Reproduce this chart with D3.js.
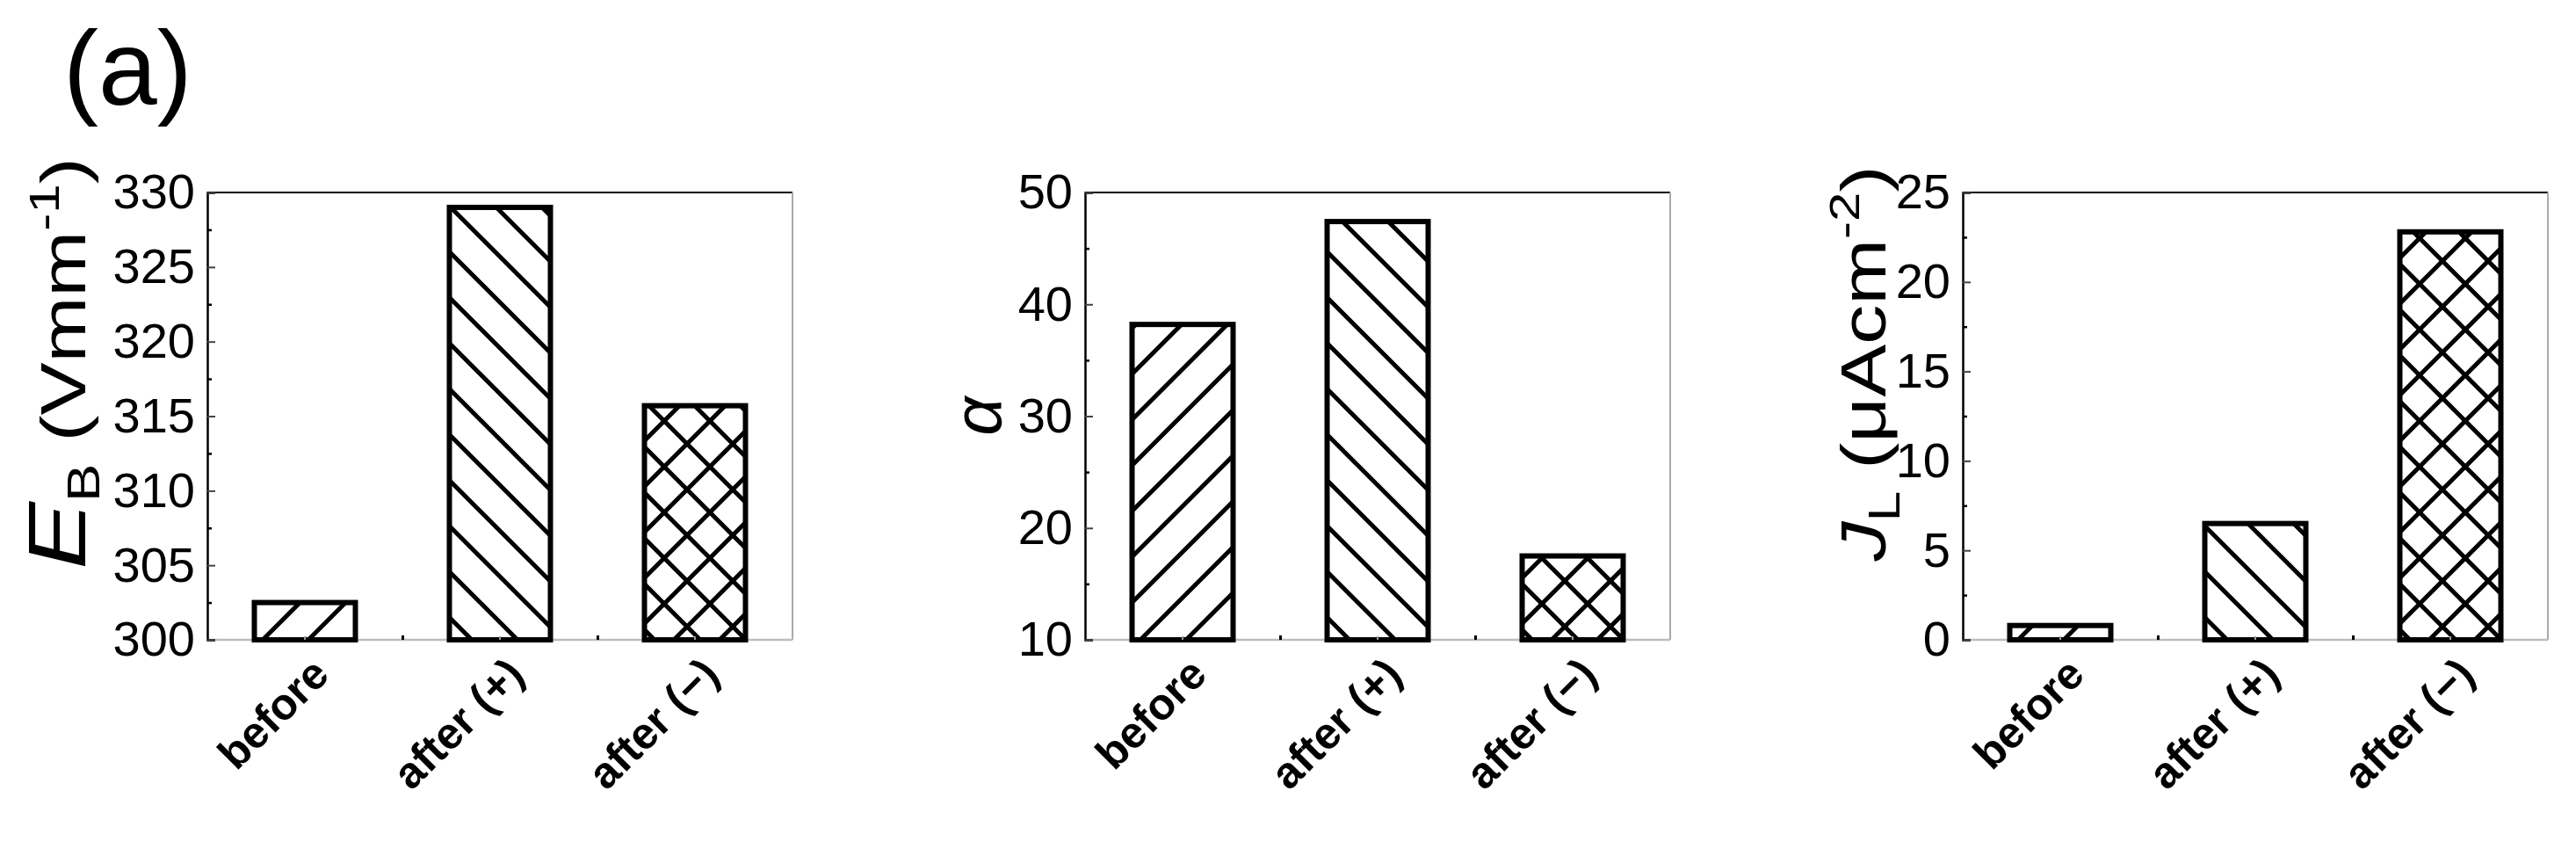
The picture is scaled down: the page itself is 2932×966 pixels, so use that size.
<!DOCTYPE html>
<html>
<head>
<meta charset="utf-8">
<script src="https://cdn.jsdelivr.net/npm/d3@7"></script>
<style>
  body { margin: 0; background: #fff; }
  text { font-family: "Liberation Sans", Arial, sans-serif; }
</style>
</head>
<body>
<div id="chart"></div>
<script>
// data
var categories = ['before', 'after (+)', 'after (\u2212)'];
var ebValues = [302.5, 329.0, 315.7];
var alphaValues = [38.2, 47.4, 17.5];
var jlValues = [0.8, 6.5, 22.8];
var ebDomain = [300, 330];
var alphaDomain = [10, 50];
var jlDomain = [0, 25];
var ebTicks = [300, 305, 310, 315, 320, 325, 330];
var alphaTicks = [10, 20, 30, 40, 50];
var jlTicks = [0, 5, 10, 15, 20, 25];
var ebMinor = [302.5, 307.5, 312.5, 317.5, 322.5, 327.5];
var alphaMinor = [15, 25, 35, 45];
var jlMinor = [2.5, 7.5, 12.5, 17.5, 22.5];
var hatches = ['fwd', 'back', 'cross'];

var width = 2932, height = 966;
var plotW = 666, plotTop = 219, plotH = 509;

var svg = d3.select("#chart")
  .append("svg")
  .attr("width", width)
  .attr("height", height);

// hatch patterns
var defs = svg.append("defs");
var step = 52;
function addPattern(id, paths) {
  var p = defs.append("pattern")
    .attr("id", id)
    .attr("patternUnits", "userSpaceOnUse")
    .attr("width", step)
    .attr("height", step);
  p.append("rect").attr("width", step).attr("height", step).attr("fill", "#fff");
  paths.forEach(function(d) {
    p.append("path").attr("d", d)
      .attr("stroke", "#000")
      .attr("stroke-width", 5)
      .attr("fill", "none");
  });
}
var fwd = "M-13,13 L13,-13 M0," + step + " L" + step + ",0 M" + (step - 13) + "," + (step + 13) + " L" + (step + 13) + "," + (step - 13);
var back = "M-13," + (step - 13) + " L13," + (step + 13) + " M0,0 L" + step + "," + step + " M" + (step - 13) + ",-13 L" + (step + 13) + ",13";
addPattern("fwd", [fwd]);
addPattern("back", [back]);
addPattern("cross", [fwd, back]);

svg.append("text")
  .attr("x", 72)
  .attr("y", 119)
  .style("font-size", "120px")
  .text("(a)");

function drawPanel(left, values, domain, ticks, minor, title) {
  var g = svg.append("g")
    .attr("transform", "translate(" + left + "," + plotTop + ")");

  var x = d3.scaleBand()
    .domain(categories)
    .range([0, plotW])
    .paddingInner(0.482)
    .paddingOuter(0.241);
  var y = d3.scaleLinear()
    .domain(domain)
    .range([plotH, 0]);

  // frame: top black, right and bottom grey
  g.append("line").attr("x1", 0).attr("x2", plotW).attr("y1", 0).attr("y2", 0)
    .attr("stroke", "#000").attr("stroke-width", 2);
  g.append("line").attr("x1", plotW).attr("x2", plotW).attr("y1", 0).attr("y2", plotH)
    .attr("stroke", "#aaa").attr("stroke-width", 2);
  g.append("line").attr("x1", 0).attr("x2", plotW).attr("y1", plotH).attr("y2", plotH)
    .attr("stroke", "#bdbdbd").attr("stroke-width", 2.5);

  // bars
  g.selectAll("rect.bar")
    .data(values)
    .enter()
    .append("rect")
      .attr("class", "bar")
      .attr("x", function(d, i) { return x(categories[i]); })
      .attr("width", x.bandwidth())
      .attr("y", function(d) { return y(d); })
      .attr("height", function(d) { return y(domain[0]) - y(d); })
      .attr("fill", function(d, i) { return "url(#" + hatches[i] + ")"; })
      .attr("stroke", "#000")
      .attr("stroke-width", 6);

  // y axis (ticks inward)
  var yAxis = g.append("g")
    .call(d3.axisLeft(y).tickValues(ticks).tickSize(-9).tickPadding(14).tickFormat(d3.format("d")));
  yAxis.select(".domain").attr("stroke", "#000").attr("stroke-width", 2.5);
  yAxis.selectAll(".tick line").attr("stroke", "#444").attr("stroke-width", 2);
  yAxis.selectAll("text")
    .style("font-size", "56px")
    .attr("fill", "#000");
  var yMinor = g.append("g")
    .call(d3.axisLeft(y).tickValues(minor).tickSize(-5).tickFormat(""));
  yMinor.select(".domain").remove();
  yMinor.selectAll(".tick line").attr("stroke", "#000").attr("stroke-width", 2.5);

  // x axis: grey ticks at bar centres, black ticks between groups
  var xAxis = g.append("g")
    .attr("transform", "translate(0," + plotH + ")")
    .call(d3.axisBottom(x).tickSize(-4).tickPadding(0));
  xAxis.select(".domain").remove();
  xAxis.selectAll(".tick line").attr("stroke", "#999").attr("stroke-width", 2);
  xAxis.selectAll("text")
    .attr("y", 0)
    .attr("dy", 0)
    .attr("transform", "translate(30,42) rotate(-45)")
    .attr("text-anchor", "end")
    .style("font-size", "50px")
    .style("font-weight", "bold")
    .attr("fill", "#000");
  var xSep = g.append("g")
    .attr("transform", "translate(0," + plotH + ")")
    .call(d3.axisBottom(d3.scaleLinear().domain([0, 3]).range([0, plotW]))
      .tickValues([1, 2]).tickSize(-5).tickFormat(""));
  xSep.select(".domain").remove();
  xSep.selectAll(".tick line").attr("stroke", "#000").attr("stroke-width", 3);

  title(g);
}

var titleY = plotH / 2 - 60;

drawPanel(236, ebValues, ebDomain, ebTicks, ebMinor, function(g) {
  var t = g.append("text")
    .attr("transform", "translate(-139," + titleY + ") rotate(-90) scale(1.25,1)")
    .attr("text-anchor", "middle")
    .style("font-size", "72px");
  t.append("tspan").style("font-style", "italic").style("font-size", "92px").text("E");
  t.append("tspan").attr("dy", 16).style("font-size", "52px").text("B");
  t.append("tspan").attr("dy", -16).text("\u00a0(Vmm");
  t.append("tspan").attr("dy", -30).style("font-size", "48px").text("-1");
  t.append("tspan").attr("dy", 30).text(")");
});

drawPanel(1235, alphaValues, alphaDomain, alphaTicks, alphaMinor, function(g) {
  g.append("text")
    .attr("transform", "translate(-96," + (plotH / 2) + ") rotate(-90)")
    .attr("text-anchor", "middle")
    .style("font-size", "78px")
    .style("font-style", "italic")
    .text("\u03b1");
});

drawPanel(2234, jlValues, jlDomain, jlTicks, jlMinor, function(g) {
  var t = g.append("text")
    .attr("transform", "translate(-88," + titleY + ") rotate(-90) scale(1.25,1)")
    .attr("text-anchor", "middle")
    .style("font-size", "72px");
  t.append("tspan").style("font-style", "italic").text("J");
  t.append("tspan").attr("dy", 16).style("font-size", "50px").text("L");
  t.append("tspan").attr("dy", -16).text("\u00a0(\u03bcAcm");
  t.append("tspan").attr("dy", -30).style("font-size", "48px").text("-2");
  t.append("tspan").attr("dy", 30).text(")");
});
</script>
</body>
</html>
